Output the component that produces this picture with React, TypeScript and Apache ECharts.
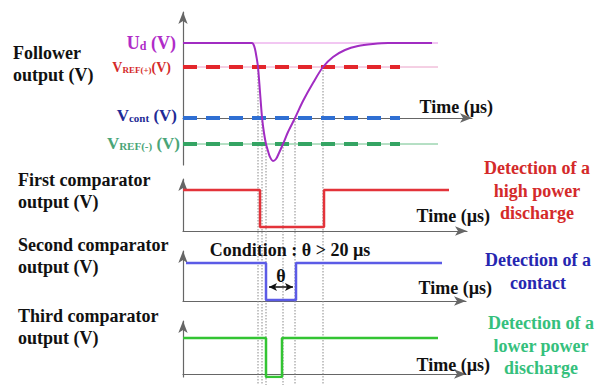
import React, { useEffect, useRef } from 'react';
import * as echarts from 'echarts';

// Follower output Ud (time in µs, voltage in arbitrary V units)
const udTime = [0, 69, 70.5, 72, 73.5, 75, 77, 79, 81, 83, 85, 87, 90, 93, 96, 100, 105, 112, 120, 130, 140, 150, 162, 175, 190, 205, 249];
const udVolt = [7.5, 7.5, 7.35, 6.9, 6.1, 5.1, 2.6, 0.1, -1.5, -2.6, -3.3, -3.9, -4.3, -4.1, -3.5, -2.6, -1.4, 0, 1.7, 3.5, 5.1, 6.1, 6.8, 7.2, 7.4, 7.5, 7.5];

// Threshold levels
const levelUd = 7.5;
const levelRefPlus = 5.1;
const levelCont = 0;
const levelRefMinus = -2.6;
const dashedEnd = 217;
const thinEnd = 255;

// Crossing instants of Ud with the thresholds
const crossTime = [75, 79, 83, 100, 112, 140];
const crossLevel = [5.1, 0, -2.6, -2.6, 0, 5.1];

// Comparator outputs
const cmp1Time = [0, 77, 77, 141, 141, 266];
const cmp1Level = [4.1, 4.1, 0.4, 0.4, 4.1, 4.1];
const cmp2Time = [3, 83, 83, 113, 113, 259];
const cmp2Level = [3.8, 3.8, 0.1, 0.1, 3.8, 3.8];
const cmp3Time = [0, 83, 83, 99, 99, 255];
const cmp3Level = [3.6, 3.6, -0.3, -0.3, 3.6, 3.6];

// θ arrow
const thetaStart = 86;
const thetaEnd = 110;
const thetaLevel = 1.4;

const FONT = 'Liberation Serif';

const zip = (a: number[], b: number[]) => a.map((v, i) => [v, b[i]]);

function subLabel(main: string, sub: string, tail: string, color: string, mSize: number, sSize: number, x: number, y: number) {
  return {
    type: 'text',
    x,
    y,
    z: 10,
    style: {
      text: `{m|${main}}{s|${sub}}{m|${tail}}`,
      align: 'right',
      verticalAlign: 'middle',
      rich: {
        m: { fontSize: mSize, fontFamily: FONT, fontWeight: 'bold', fill: color, lineHeight: mSize + 2, verticalAlign: 'bottom' },
        s: { fontSize: sSize, fontFamily: FONT, fontWeight: 'bold', fill: color, lineHeight: sSize + 1, verticalAlign: 'bottom' },
      },
    },
  };
}

function blockText(text: string, x: number, y: number, color: string, align: string, lineHeight = 22) {
  return {
    type: 'text',
    x,
    y,
    z: 10,
    style: {
      text,
      fill: color,
      fontSize: 18,
      fontFamily: FONT,
      fontWeight: 'bold',
      lineHeight,
      align,
      verticalAlign: 'top',
    },
  };
}

function timeLabel(x: number, y: number) {
  return {
    type: 'text',
    x,
    y,
    z: 10,
    style: { text: 'Time (µs)', fill: '#111', fontSize: 18, fontFamily: FONT, fontWeight: 'bold', align: 'right', verticalAlign: 'middle' },
  };
}

const axisColor = '#666';

function xAxisFor(gridIndex: number, max: number) {
  return {
    type: 'value',
    gridIndex,
    min: 0,
    max,
    axisLine: { show: true, onZero: true, symbol: ['none', 'arrow'], symbolSize: [7, 12], lineStyle: { color: axisColor, width: 1.2 } },
    axisTick: { show: false },
    axisLabel: { show: false },
    splitLine: { show: false },
  };
}

function yAxisFor(gridIndex: number, min: number, max: number) {
  return {
    type: 'value',
    gridIndex,
    min,
    max,
    axisLine: { show: true, onZero: false, symbol: ['none', 'arrow'], symbolSize: [7, 12], lineStyle: { color: axisColor, width: 1.2 } },
    axisTick: { show: false },
    axisLabel: { show: false },
    splitLine: { show: false },
  };
}

function lineSeries(data: number[][], color: string, width: number, type: any, idx: number, extra: any = {}) {
  return {
    type: 'line',
    xAxisIndex: idx,
    yAxisIndex: idx,
    data,
    showSymbol: false,
    symbol: 'none',
    silent: true,
    lineStyle: { color, width, type, cap: 'butt' },
    ...extra,
  };
}

export default function App() {
  const ref = useRef<HTMLDivElement>(null);
  useEffect(() => {
    if (!ref.current) return;
    const chart = echarts.init(ref.current, undefined, { renderer: 'svg' });
    const option: any = {
      animation: false,
      backgroundColor: '#fff',
      grid: [
        { left: 183, top: 12, width: 289, height: 153 },
        { left: 183, top: 179, width: 284, height: 52 },
        { left: 183, top: 251, width: 283, height: 50 },
        { left: 183, top: 321, width: 283, height: 56 },
      ],
      xAxis: [xAxisFor(0, 289), xAxisFor(1, 284), xAxisFor(2, 283), xAxisFor(3, 283)],
      yAxis: [
        yAxisFor(0, -4.7, 10.6),
        yAxisFor(1, 0, 5.2),
        yAxisFor(2, 0, 5.0),
        yAxisFor(3, -0.3, 5.3),
      ],
      series: [
        {
          type: 'custom',
          xAxisIndex: 0,
          yAxisIndex: 0,
          z: 1,
          silent: true,
          clip: false,
          data: zip(crossTime, crossLevel),
          renderItem: (params: any, api: any) => {
            const p = api.coord([api.value(0), api.value(1)]);
            return {
              type: 'line',
              shape: { x1: p[0], y1: p[1], x2: p[0], y2: api.getHeight() },
              style: { stroke: '#8a8a8a', lineWidth: 1, lineDash: [1.5, 1.5] },
            };
          },
        },
        lineSeries([[0, levelUd], [thinEnd, levelUd]], '#e58ee5', 1, 'solid', 0),
        lineSeries([[0, levelRefPlus], [thinEnd, levelRefPlus]], '#eaa0c8', 1, 'solid', 0),
        lineSeries([[0, levelRefMinus], [thinEnd, levelRefMinus]], '#6cc08a', 1, 'solid', 0),
        lineSeries([[0, levelRefPlus], [dashedEnd, levelRefPlus]], '#e3262b', 4, [14, 9], 0),
        lineSeries([[0, levelCont], [dashedEnd, levelCont]], '#2f6fd3', 4, [14, 9], 0),
        lineSeries([[0, levelRefMinus], [dashedEnd, levelRefMinus]], '#34a463', 4, [14, 9], 0),
        lineSeries(zip(udTime, udVolt), '#a12cc2', 2, 'solid', 0, { smooth: 0.3, z: 5 }),
        lineSeries(zip(cmp1Time, cmp1Level), '#e3333a', 2.5, 'solid', 1),
        lineSeries(zip(cmp2Time, cmp2Level), '#5b5be6', 2.5, 'solid', 2, {
          markLine: {
            silent: true,
            symbol: ['arrow', 'arrow'],
            symbolSize: [6, 8],
            lineStyle: { color: '#111', type: 'solid', width: 1.5 },
            label: { show: true, position: 'middle', formatter: 'θ', fontFamily: FONT, fontWeight: 'bold', fontSize: 18, color: '#111', distance: 2 },
            data: [[{ coord: [thetaStart, thetaLevel] }, { coord: [thetaEnd, thetaLevel] }]],
          },
        }),
        lineSeries(zip(cmp3Time, cmp3Level), '#33c433', 2.5, 'solid', 3),
      ],
      graphic: [
        blockText('Follower\noutput (V)', 13, 42, '#111', 'left'),
        blockText('First comparator\noutput (V)', 18, 169, '#111', 'left'),
        blockText('Second comparator\noutput (V)', 18, 234, '#111', 'left'),
        blockText('Third comparator\noutput (V)', 18, 305, '#111', 'left'),
        {
          type: 'text', x: 290, y: 250, z: 10,
          style: { text: 'Condition : θ > 20 µs', fill: '#111', fontSize: 18, fontFamily: FONT, fontWeight: 'bold', align: 'center', verticalAlign: 'middle' },
        },
        blockText('Detection of a\nhigh power\ndischarge', 537, 157, '#d42a2a', 'center', 22.5),
        blockText('Detection of a\ncontact', 538, 249, '#2626b0', 'center', 22.5),
        blockText('Detection of a\nlower power\ndischarge', 541, 312, '#35c07c', 'center', 22.5),
        timeLabel(493, 107),
        timeLabel(490, 216),
        timeLabel(492, 288),
        timeLabel(490, 365),
        subLabel('U', 'd', ' (V)', '#b02cc8', 18, 12, 176, 42),
        subLabel('V', 'REF(+)', '(V)', '#d42a2a', 14, 9, 171, 66),
        subLabel('V', 'cont', ' (V)', '#1f2b96', 17, 11, 177, 114),
        subLabel('V', 'REF(-)', ' (V)', '#4aa577', 17, 11, 180, 142),
      ],
    };
    chart.setOption(option);
    return () => chart.dispose();
  }, []);
  return <div ref={ref} style={{ position: 'fixed', left: 0, top: 0, width: 600, height: 385, background: '#fff' }} />;
}
